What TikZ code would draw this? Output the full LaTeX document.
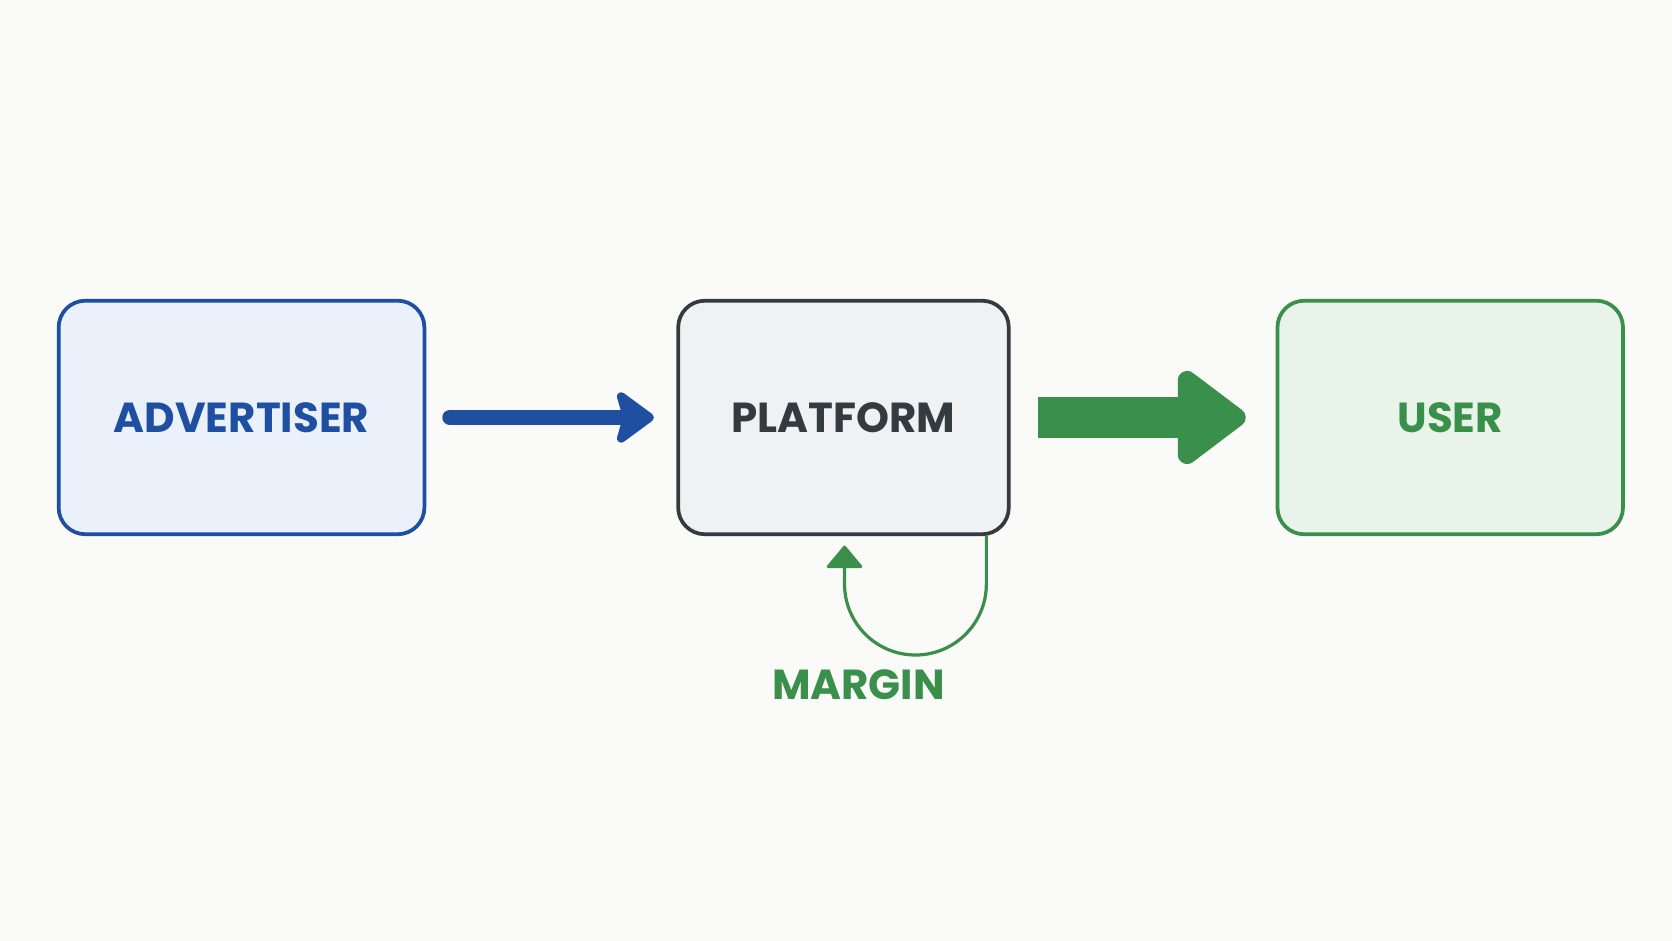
\documentclass[tikz,border=0pt]{standalone}
\usepackage{fontspec}
\setmainfont{Poppins}
\usetikzlibrary{arrows.meta,positioning}
\definecolor{advblue}{HTML}{1F4FA0}
\definecolor{advfill}{HTML}{EAF1FB}
\definecolor{platgray}{HTML}{333B40}
\definecolor{platfill}{HTML}{F0F1F2}
\definecolor{usergreen}{HTML}{3A8F4A}
\definecolor{userfill}{HTML}{E8F4EA}
\definecolor{bgcol}{HTML}{FAFAF8}
\tikzstyle{party}=[rectangle, rounded corners=0.25cm, line width=0.035cm, minimum height=2.19cm, font=\fontsize{11.2}{14}\selectfont\bfseries]
\tikzstyle{flow}=[line width=0.14cm, line cap=round, draw=advblue, -{Stealth[length=4mm,width=5.8mm,inset=0.8mm,round]}]
\begin{document}
\begin{tikzpicture}
    \fill [bgcol] (0,0) rectangle (15.68,8.82);
    \useasboundingbox (0,0) rectangle (15.68,8.82);
    \node [style=party, draw=advblue, fill=advfill, text=advblue, minimum width=3.43cm] (advertiser) at (2.265, 4.905) {ADVERTISER};
    \node [style=party, draw=platgray, fill=platfill, text=platgray, minimum width=3.10cm] (platform) at (7.91, 4.905) {PLATFORM};
    \node [style=party, draw=usergreen, fill=userfill, text=usergreen, minimum width=3.24cm] (user) at (13.60, 4.905) {USER};
    \node [text=usergreen, font=\fontsize{11.2}{14}\selectfont\bfseries] (margin) at (8.05, 2.4) {MARGIN};
    \coordinate (loopstart) at (platform.south -| 9.25, 0);

    \draw [style=flow, shorten <=0.22cm, shorten >=0.21cm] (advertiser) to (platform);
    \draw [draw=usergreen, line width=0.38cm, -{Triangle[length=7mm,width=10mm,round]}, shorten <=0.26cm, shorten >=0.28cm] (platform) to (user);
    \draw [draw=usergreen, line width=0.03cm, -{Triangle[length=2.2mm,width=3.6mm,round]}] (loopstart) -- ++(0,-0.45) arc[start angle=0, end angle=-180, radius=0.665] -- ++(0,0.36);
\end{tikzpicture}
\end{document}
